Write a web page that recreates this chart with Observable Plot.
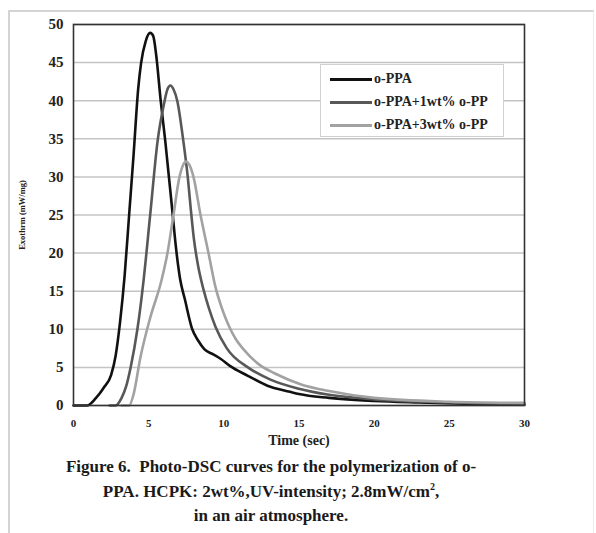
<!DOCTYPE html>
<html>
<head>
<meta charset="utf-8">
<script src="https://cdn.jsdelivr.net/npm/d3@7"></script>
<script src="https://cdn.jsdelivr.net/npm/@observablehq/plot@0.6"></script>
<style>
  html, body { margin: 0; padding: 0; background: #fff; }
  #wrap { position: relative; width: 596px; height: 533px; overflow: hidden; background: #fff;
          font-family: "Liberation Serif", "Times New Roman", serif; }
  #frame { position: absolute; left: 8px; top: 10px; width: 583px; height: 530px;
           border-top: 2px solid #d4d4d4; border-left: 2px solid #d4d4d4; border-right: 1px solid #ececec; }
  #chart { position: absolute; left: 0; top: 0; }
  #legend { position: absolute; left: 320px; top: 64px; width: 184px; height: 73px; background: #fff;
            border: 1px solid #d0d0d0; box-sizing: border-box; }
  .item { position: absolute; left: 9px; height: 20px; width: 176px; }
  .sw { position: absolute; left: 0; top: 9px; width: 42px; height: 3px; }
  .lt { position: absolute; left: 44px; top: 0; font-weight: bold; font-size: 14px; line-height: 20px; color: #222; white-space: nowrap; }
  #caption { position: absolute; left: 0; top: 455px; width: 542px; text-align: center;
             font-weight: bold; font-size: 17px; line-height: 24.5px; color: #1a1a1a; }
  #caption sup { font-size: 10px; vertical-align: 7px; line-height: 0; }
</style>
</head>
<body>
<div id="wrap">
  <div id="frame"></div>
  <div id="chart"></div>
  <div id="legend"></div>
  <div id="caption">Figure 6.&nbsp; Photo-DSC curves for the polymerization of o-<br>PPA. HCPK: 2wt%,UV-intensity; 2.8mW/cm<sup>2</sup>,<br>in an air atmosphere.</div>
</div>
<script>
// ---- data ----
const seriesNames = ["o-PPA", "o-PPA+1wt% o-PP", "o-PPA+3wt% o-PP"];
const seriesColors = ["#111111", "#585858", "#a2a2a2"];

const timePPA = [0, 0.9, 1.5, 2.0, 2.5, 2.8, 3.1, 3.4, 3.7, 4.0, 4.3, 4.5, 4.8, 5.1, 5.3, 5.5, 5.8, 6.1, 6.6, 6.8, 7.1, 7.4, 7.9, 8.3, 8.7, 9.3, 9.8, 10.4, 11.6, 12.9, 14.4, 15, 17, 20, 23, 26, 30];
const valPPA  = [0, 0, 1.0, 2.3, 4.0, 6.5, 11, 17, 25, 33, 41.5, 45, 47.8, 48.9, 48.5, 46, 40, 34.8, 25, 21, 16.5, 14, 10, 8.5, 7.4, 6.7, 6.1, 5.2, 3.9, 2.6, 1.8, 1.5, 1.0, 0.6, 0.4, 0.25, 0.1];

const time1 = [2.4, 2.8, 3.2, 3.5, 3.8, 4.25, 4.66, 5.1, 5.6, 6.0, 6.25, 6.45, 6.65, 6.9, 7.3, 7.6, 7.8, 8.0, 8.3, 8.65, 9.0, 9.45, 10.2, 11.6, 13.1, 15, 17, 20, 25, 30];
const val1  = [0, 0, 1.0, 2.5, 5, 10, 16.4, 25, 34.8, 39.4, 41.5, 42, 41.5, 40, 34.8, 30, 25.8, 22, 18.2, 15.2, 12.8, 10.3, 7.5, 5, 3.4, 2.2, 1.4, 0.8, 0.4, 0.2];

const time3 = [3.2, 3.7, 4.0, 4.45, 5.1, 5.85, 6.25, 6.65, 7.05, 7.3, 7.5, 7.7, 7.98, 8.45, 8.98, 9.45, 9.9, 10.3, 10.8, 11.3, 12.4, 13.4, 15.1, 17, 20, 25, 30];
const val3  = [0, 0, 1.5, 6.3, 11.5, 16.4, 20, 25, 30, 31.6, 32, 31.6, 30, 25, 20, 15.5, 12.6, 10.6, 8.7, 7.4, 5.3, 4.2, 2.8, 1.9, 1.0, 0.5, 0.35];

const xTicks = [0, 5, 10, 15, 20, 25, 30];
const yTicks = [0, 5, 10, 15, 20, 25, 30, 35, 40, 45, 50];

const rows = [];
[[timePPA, valPPA], [time1, val1], [time3, val3]].forEach(([ts, vs], i) => {
  ts.forEach((t, j) => rows.push({series: seriesNames[i], t, v: vs[j]}));
});

const serif = "Liberation Serif, Times New Roman, serif";

const chart = Plot.plot({
  width: 596,
  height: 450,
  marginLeft: 73,
  marginRight: 72,
  marginTop: 24,
  marginBottom: 45,
  style: {fontFamily: serif, fontWeight: "bold", color: "#222", background: "transparent"},
  x: {domain: [0, 30]},
  y: {domain: [0, 50]},
  color: {domain: seriesNames, range: seriesColors},
  marks: [
    Plot.gridY(yTicks, {stroke: "#c4c4c4", strokeOpacity: 1, strokeWidth: 1.5}),
    Plot.axisY(yTicks, {tickSize: 0, tickPadding: 10, fontSize: 15, fontWeight: "bold",
      label: "Exothrm (mW/mg)", labelAnchor: "center", labelArrow: "none", labelOffset: 55}),
    Plot.axisX(xTicks, {tickSize: 0, tickPadding: 14, fontSize: 11, fontWeight: "bold",
      label: "Time (sec)", labelAnchor: "center", labelArrow: "none", labelOffset: 39}),
    Plot.lineY(rows, {x: "t", y: "v", z: "series", stroke: "series", strokeWidth: 2.6, curve: "monotone-x"}),
    Plot.frame({stroke: "#333", strokeWidth: 1.6})
  ]
});
document.getElementById("chart").appendChild(chart);

// style the axis labels (font sizes)
chart.querySelectorAll("g[aria-label='y-axis label'] text").forEach(t => { t.setAttribute("font-size", 8.5); });
chart.querySelectorAll("g[aria-label='x-axis label'] text").forEach(t => { t.setAttribute("font-size", 14); });

// legend
const legend = document.getElementById("legend");
seriesNames.forEach((name, i) => {
  const it = document.createElement("div");
  it.className = "item";
  it.style.top = (4 + i * 23) + "px";
  it.innerHTML = `<div class="sw" style="background:${seriesColors[i]}"></div><div class="lt">${name}</div>`;
  legend.appendChild(it);
});
</script>
</body>
</html>
